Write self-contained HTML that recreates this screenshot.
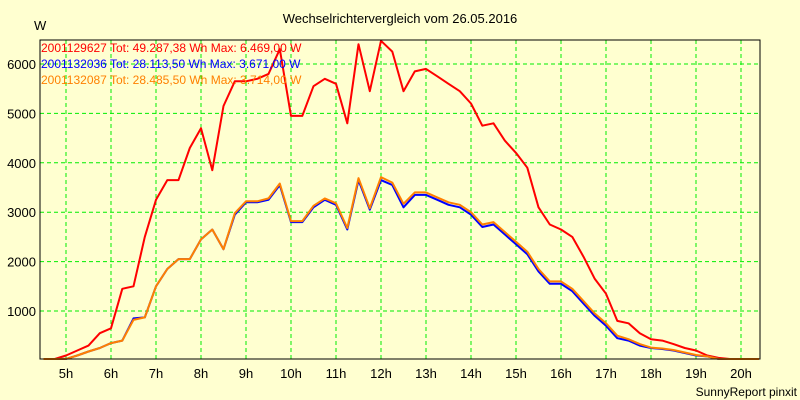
<!DOCTYPE html>
<html><head><meta charset="utf-8"><style>
body{margin:0;background:#ffffd0;}
svg{display:block;font-family:"Liberation Sans",sans-serif;}
</style></head><body>
<svg id="chart" width="800" height="400">
<rect x="0" y="0" width="800" height="400" fill="#ffffd0"/>
<text x="400" y="23" text-anchor="middle" font-size="13" fill="#000">Wechselrichtervergleich vom 26.05.2016</text>
<text x="34" y="30" font-size="13" fill="#000">W</text>
<text x="797" y="396" text-anchor="end" font-size="12" fill="#000">SunnyReport pinxit</text>
<g id="grid"></g>
<g id="series"></g>
<rect x="40" y="40" width="720" height="319" fill="none" stroke="#000" stroke-width="1"/>
<g id="legend"></g>
</svg>
<script>
const times=[4.5,4.75,5,5.25,5.5,5.75,6,6.25,6.5,6.75,7,7.25,7.5,7.75,8,8.25,8.5,8.75,9,9.25,9.5,9.75,10,10.25,10.5,10.75,11,11.25,11.5,11.75,12,12.25,12.5,12.75,13,13.25,13.5,13.75,14,14.25,14.5,14.75,15,15.25,15.5,15.75,16,16.25,16.5,16.75,17,17.25,17.5,17.75,18,18.25,18.5,18.75,19,19.25,19.5,19.75,20,20.25,20.4];
const redValues=[0,0,100,200,300,550,650,1450,1500,2500,3250,3650,3650,4300,4700,3850,5150,5650,5650,5700,5800,6300,4950,4950,5550,5700,5600,4800,6400,5450,6470,6250,5450,5850,5900,5750,5600,5450,5200,4750,4800,4450,4200,3900,3100,2750,2650,2500,2100,1650,1350,800,750,550,430,400,330,250,200,100,50,0,0,0,0];
const blueValues=[0,0,30,100,180,250,350,400,850,870,1500,1850,2050,2050,2450,2650,2250,2950,3200,3200,3250,3550,2800,2800,3100,3250,3150,2650,3650,3050,3650,3550,3100,3350,3350,3250,3150,3100,2950,2700,2750,2550,2350,2150,1800,1550,1550,1400,1150,900,700,450,400,300,250,230,200,150,100,80,30,0,0,0,0];
const orangeValues=[0,0,30,100,180,250,350,400,820,870,1500,1850,2050,2050,2450,2650,2250,2980,3220,3220,3280,3580,2820,2820,3130,3280,3180,2680,3690,3080,3710,3600,3170,3400,3400,3300,3200,3150,3000,2750,2800,2600,2400,2200,1850,1600,1600,1450,1200,950,750,500,430,330,260,240,210,160,110,80,30,0,0,0,0];
const yTicks=[1000,2000,3000,4000,5000,6000];
const xTicks=[5,6,7,8,9,10,11,12,13,14,15,16,17,18,19,20];
const legendLabels=["2001129627 Tot: 49.287,38 Wh Max: 6.469,00 W","2001132036 Tot: 28.113,50 Wh Max: 3.671,00 W","2001132087 Tot: 28.485,50 Wh Max: 3.714,00 W"];
const NS="http://www.w3.org/2000/svg";
const X=h=>66+45*(h-5);
const Y=v=>360.4-v*0.0494;
const grid=document.getElementById('grid');
function mk(tag,attrs,parent){const e=document.createElementNS(NS,tag);for(const k in attrs)e.setAttribute(k,attrs[k]);parent.appendChild(e);return e;}
yTicks.forEach(v=>{
  const l=mk('line',{x1:40,x2:760,y1:Y(v),y2:Y(v),stroke:'#00ee00','stroke-dasharray':'4,3'},grid);
  
  
  const t=mk('text',{x:36,y:Y(v)+5,'text-anchor':'end','font-size':13,fill:'#000'},grid);
  t.textContent=v;
  
  
});
xTicks.forEach(h=>{
  const l=mk('line',{x1:X(h),x2:X(h),y1:40,y2:359,stroke:'#00ee00','stroke-dasharray':'4,3'},grid);
  
  
  const t=mk('text',{x:X(h),y:378,'text-anchor':'middle','font-size':13,fill:'#000'},grid);
  t.textContent=h+'h';
  
  
});
const ser=document.getElementById('series');
const colors=['#ff0000','#0000ff','#ff8000'];
[redValues,blueValues,orangeValues].forEach((vals,i)=>{
  const pts=vals.map((v,j)=>X(times[j]).toFixed(1)+','+Math.min(359,Y(v)).toFixed(1)).join(' ');
  const p=mk('polyline',{points:pts,fill:'none',stroke:colors[i],'stroke-width':2,'stroke-linejoin':'round'},ser);
  
  
});
const lg=document.getElementById('legend');
legendLabels.forEach((s,i)=>{
  const t=mk('text',{x:41,y:52+i*16,'font-size':12,fill:colors[i]},lg);
  t.textContent=s;
  
  
});
</script>
</body></html>
